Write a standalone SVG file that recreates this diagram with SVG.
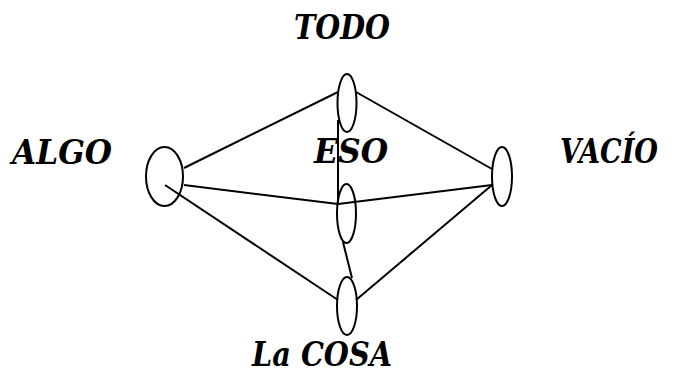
<svg xmlns="http://www.w3.org/2000/svg" width="676" height="373" viewBox="0 0 676 373">
<style>
.n{fill:none;stroke:#000;stroke-width:2}
.c line{stroke:#000;stroke-width:2}
.t{font-family:'DejaVu Serif','Liberation Serif',serif;font-weight:bold;font-style:italic;font-size:33px;fill:#000}
</style>
<rect width="676" height="373" fill="#fff"/>
<g id="connectors" class="c">
<line x1="184" y1="168" x2="338" y2="92"/>
<line x1="184" y1="185" x2="338" y2="204"/>
<line x1="165" y1="185" x2="338" y2="300"/>
<line x1="356" y1="92" x2="492" y2="169"/>
<line x1="338" y1="204" x2="492" y2="185"/>
<line x1="356" y1="300" x2="492" y2="185"/>
<line x1="338" y1="120" x2="338" y2="204"/>
<line x1="343" y1="242" x2="352" y2="278"/>
</g>
<g id="algo"><ellipse class="n" cx="164.5" cy="176.5" rx="18.5" ry="29.5"/><text class="t" x="12" y="164" textLength="100" lengthAdjust="spacingAndGlyphs">ALGO</text></g>
<g id="todo"><ellipse class="n" cx="347" cy="103" rx="9.5" ry="29"/><text class="t" x="294" y="39" textLength="96" lengthAdjust="spacingAndGlyphs">TODO</text></g>
<g id="eso"><ellipse class="n" cx="346.5" cy="213.5" rx="9.5" ry="29.5"/><text class="t" x="314" y="163" textLength="74" lengthAdjust="spacingAndGlyphs">ESO</text></g>
<g id="vacio"><ellipse class="n" cx="502" cy="176.5" rx="10" ry="29.5"/><text class="t" x="560" y="163" font-size="31" textLength="98" lengthAdjust="spacingAndGlyphs">VACÍO</text></g>
<g id="lacosa"><ellipse class="n" cx="347" cy="306" rx="10" ry="29"/><text class="t" x="252" y="366" textLength="140" lengthAdjust="spacingAndGlyphs">La COSA</text></g>
</svg>
